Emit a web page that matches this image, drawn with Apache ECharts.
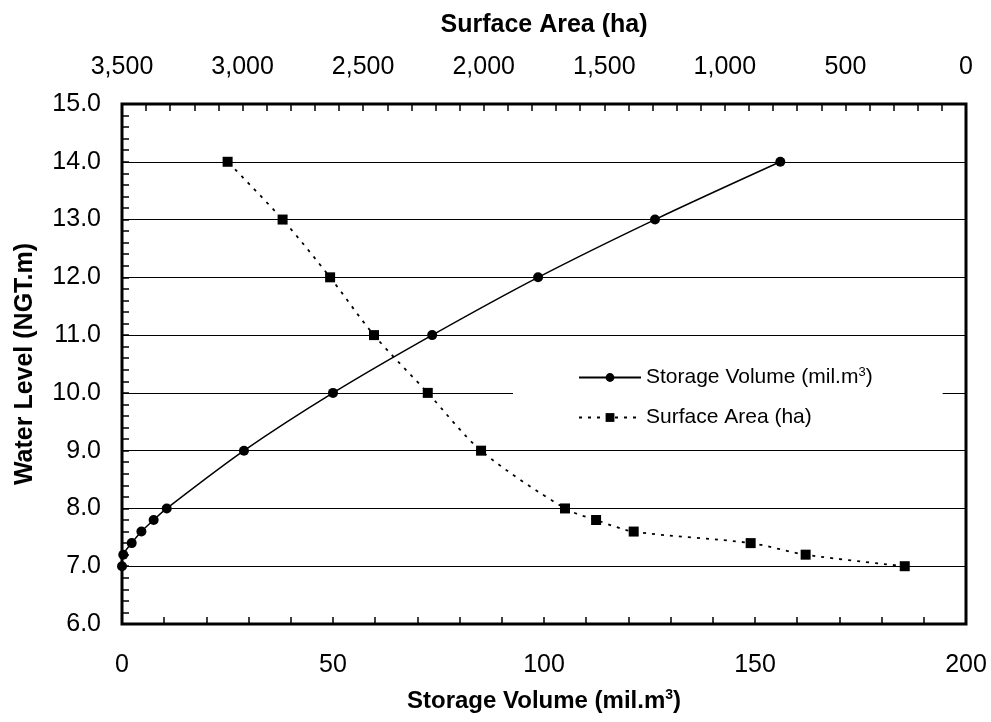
<!DOCTYPE html>
<html>
<head>
<meta charset="utf-8">
<script src="https://cdn.jsdelivr.net/npm/echarts@6/dist/echarts.min.js"></script>
<style>
  html, body { margin: 0; padding: 0; background: #fff; }
  #main { width: 991px; height: 722px; }
</style>
</head>
<body>
<div id="main"></div>
<script>
// water level (NGT.m) for each measured point
var levels = [7.0, 7.2, 7.4, 7.6, 7.8, 8.0, 9.0, 10.0, 11.0, 12.0, 13.0, 14.0];
// storage volume (mil.m3), bottom axis
var volume = [0, 0.3, 2.3, 4.6, 7.5, 10.6, 28.9, 50.0, 73.5, 98.6, 126.3, 156.0];
// surface area (ha), top axis (reversed)
var area = [254, 665, 893, 1378, 1534, 1663, 2011, 2232, 2455, 2637, 2834, 3062];

var font = "'Liberation Sans', Arial, sans-serif";

var volData = levels.map(function (l, i) { return [volume[i], l]; });
var areaData = levels.map(function (l, i) { return [area[i], l]; });

var myChart = echarts.init(document.getElementById("main"));

var option = {
  animation: false,
  textStyle: { fontFamily: font, color: "#000" },
  grid: {
    left: 122,
    right: 25,
    top: 104,
    bottom: 98,
    show: true,
    borderColor: "#000",
    borderWidth: 3,
    backgroundColor: "transparent"
  },
  legend: {
    orient: "vertical",
    left: 513,
    top: 344,
    backgroundColor: "#fff",
    padding: [22, 70, 22, 65],
    itemWidth: 62,
    itemHeight: 11,
    itemGap: 19,
    textStyle: {
      fontFamily: font,
      fontSize: 21,
      color: "#000",
      rich: {
        sup: { fontSize: 13, verticalAlign: "top", padding: [0, 0, 10, 0] }
      }
    },
    formatter: function (name) {
      return name === "Storage Volume" ? "Storage Volume (mil.m{sup|3})" : name;
    },
    data: ["Storage Volume", "Surface Area (ha)"]
  },
  xAxis: [
    {
      type: "value",
      position: "bottom",
      min: 0,
      max: 200,
      interval: 50,
      name: "Storage Volume (mil.m{sup|3})",
      nameLocation: "middle",
      nameGap: 64,
      nameTextStyle: {
        fontFamily: font,
        fontSize: 24,
        fontWeight: "bold",
        color: "#000",
        rich: {
          sup: { fontSize: 14, fontWeight: "bold", verticalAlign: "top", padding: [0, 0, 12, 0] }
        }
      },
      axisLine: { show: false },
      axisTick: { show: true, inside: true, length: 7, lineStyle: { color: "#000", width: 1.5 } },
      minorTick: { show: true, splitNumber: 5, length: 7, lineStyle: { color: "#000", width: 1.5 } },
      axisLabel: { margin: 29, fontSize: 25, color: "#000", fontFamily: font },
      splitLine: { show: false }
    },
    {
      type: "value",
      position: "top",
      inverse: true,
      min: 0,
      max: 3500,
      interval: 500,
      name: "Surface Area (ha)",
      nameLocation: "middle",
      nameGap: 66,
      nameTextStyle: { fontFamily: font, fontSize: 25, fontWeight: "bold", color: "#000" },
      axisLine: { show: false },
      axisTick: { show: true, inside: true, length: 7, lineStyle: { color: "#000", width: 1.5 } },
      minorTick: { show: true, splitNumber: 5, length: 7, lineStyle: { color: "#000", width: 1.5 } },
      axisLabel: {
        margin: 24,
        fontSize: 25,
        color: "#000",
        fontFamily: font,
        formatter: function (v) { return v.toLocaleString("en-US"); }
      },
      splitLine: { show: false }
    }
  ],
  yAxis: {
    type: "value",
    min: 6,
    max: 15,
    interval: 1,
    name: "Water Level (NGT.m)",
    nameLocation: "middle",
    nameGap: 84,
    nameTextStyle: { fontFamily: font, fontSize: 25, fontWeight: "bold", color: "#000" },
    axisLine: { show: false },
    axisTick: { show: true, inside: true, length: 7, lineStyle: { color: "#000", width: 1.5 } },
    minorTick: { show: true, splitNumber: 5, length: 7, lineStyle: { color: "#000", width: 1.5 } },
    axisLabel: {
      margin: 21,
      fontSize: 25,
      color: "#000",
      fontFamily: font,
      formatter: function (v) { return v.toFixed(1); }
    },
    splitLine: { show: true, lineStyle: { color: "#000", width: 1 } }
  },
  series: [
    {
      name: "Storage Volume",
      type: "line",
      xAxisIndex: 0,
      smooth: 0.3,
      symbol: "circle",
      symbolSize: 10,
      itemStyle: { color: "#000" },
      lineStyle: { color: "#000", width: 1.5 },
      data: volData,
      z: 3
    },
    {
      name: "Surface Area (ha)",
      type: "line",
      xAxisIndex: 1,
      smooth: 0.3,
      symbol: "rect",
      symbolSize: 10,
      itemStyle: { color: "#000" },
      lineStyle: { color: "#000", width: 1.8, type: [3, 6] },
      data: areaData,
      z: 3
    }
  ]
};

myChart.setOption(option);
</script>
</body>
</html>
